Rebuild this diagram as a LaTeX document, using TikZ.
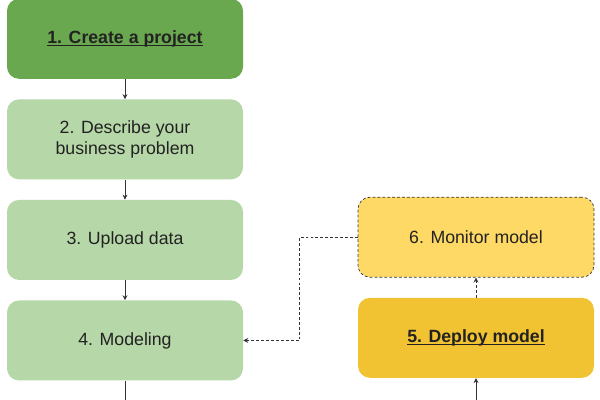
\documentclass[tikz,border=0pt]{standalone}
\usepackage{fontspec}
\setmainfont{Liberation Sans}
\usetikzlibrary{positioning,arrows.meta}
\definecolor{darkgreen}{HTML}{6AA84F}
\definecolor{lightgreen}{HTML}{B6D7A8}
\definecolor{darkyellow}{HTML}{F1C232}
\definecolor{lightyellow}{HTML}{FFD966}
\definecolor{textgray}{HTML}{222222}
\definecolor{linegray}{HTML}{333333}
\newcommand\undertext[1]{\setbox0\hbox{#1}\rlap{\rule[-2pt]{\wd0}{0.7pt}}\box0}
\tikzset{
  stepbox/.style={rounded corners=0.3cm, minimum width=5.9cm, minimum height=2cm,
                  align=center, text=textgray, font=\fontsize{12.6}{15}\selectfont},
  flow/.style={draw=linegray, line width=0.5pt, -{Stealth[length=3.5pt,width=3.5pt]}},
  dashflow/.style={flow, dash pattern=on 2pt off 1.5pt}
}
\begin{document}
\begin{tikzpicture}
      \useasboundingbox (0,0) rectangle (15,-10);

      \node[stepbox, fill=darkgreen] (create) at (3.125,-0.97)
           {\textbf{\undertext{1. Create a project}}};
      \node[stepbox, fill=lightgreen, below=0.5cm of create] (describe)
           {2. Describe your\\business problem};
      \node[stepbox, fill=lightgreen, below=0.5cm of describe] (upload) {3. Upload data};
      \node[stepbox, fill=lightgreen, below=0.5cm of upload] (modeling) {4. Modeling};

      \node[stepbox, fill=lightyellow, draw=linegray, dash pattern=on 2pt off 1.5pt,
            line width=0.5pt] (monitor) at (11.9,-5.93) {6. Monitor model};
      \node[stepbox, fill=darkyellow, below=0.5cm of monitor] (deploy)
           {\textbf{\undertext{5. Deploy model}}};

      \coordinate (out) at (modeling.south |- 0,-10.2);
      \coordinate (in) at (deploy.south |- 0,-10.2);

      \draw[flow] (create) -- (describe);
      \draw[flow] (describe) -- (upload);
      \draw[flow] (upload) -- (modeling);
      \draw[draw=linegray, line width=0.5pt] (modeling) -- (out);
      \draw[flow] (in) -- (deploy);
      \draw[dashflow] (deploy) -- (monitor);
      \draw[dashflow] (monitor.west) -- ++(-1.45,0) |- (modeling.east);
\end{tikzpicture}
\end{document}
